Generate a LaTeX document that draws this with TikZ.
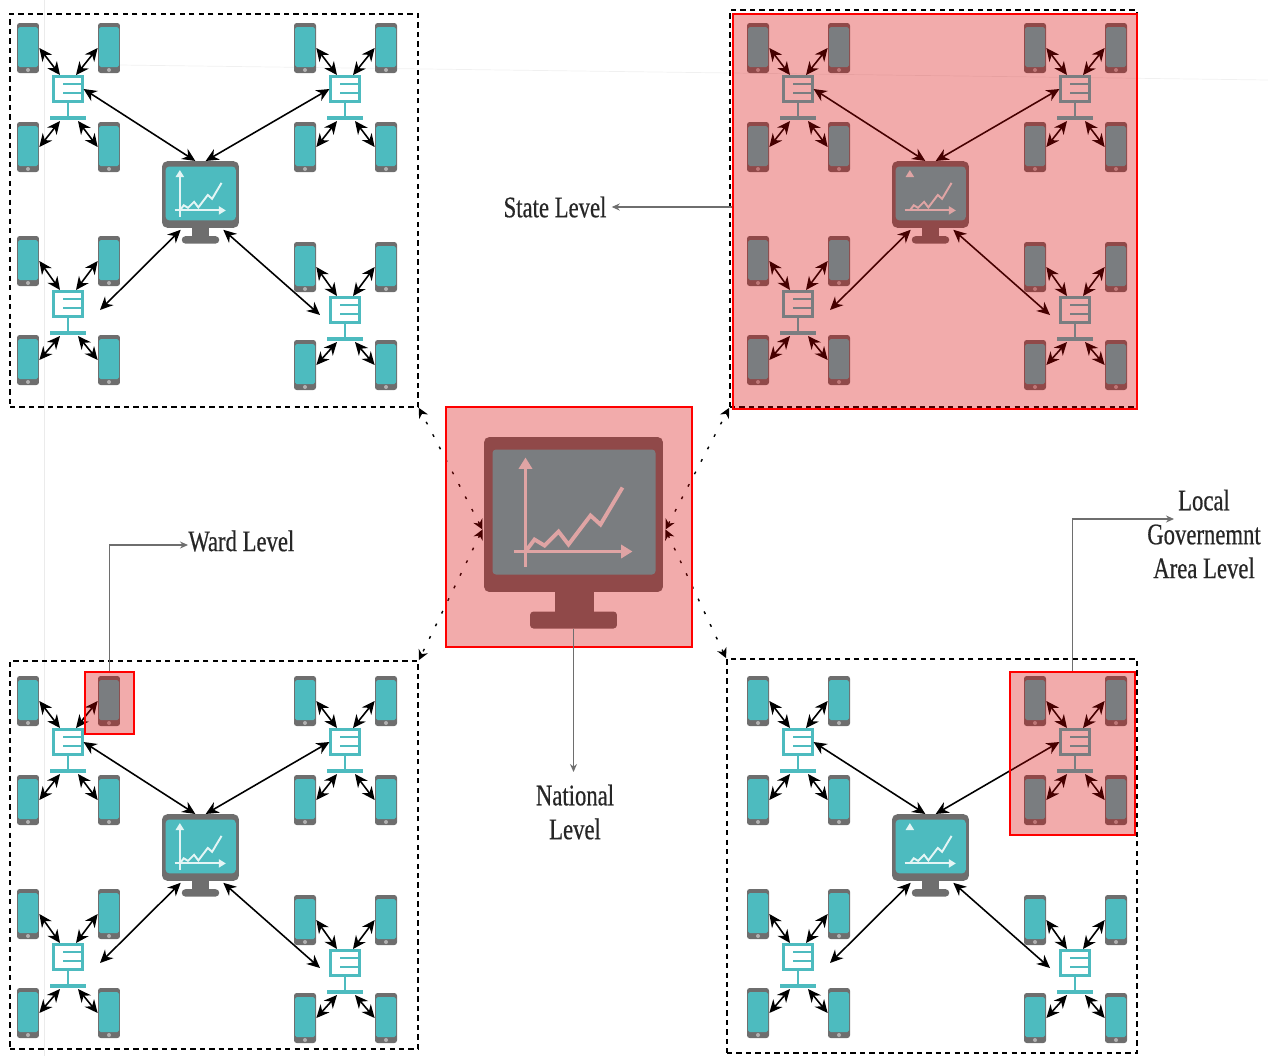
\documentclass[tikz,border=0pt]{standalone}
\usepackage{fontspec}
\setmainfont[FakeStretch=0.76,FakeBold=0.5]{Liberation Serif}
\usetikzlibrary{arrows.meta,fit}
\definecolor{screenteal}{HTML}{4DBBBF}
\definecolor{bodygray}{HTML}{6E6E6E}
\definecolor{markred}{HTML}{D70000}
\tikzset{
    phonebody/.style={rectangle, fill=bodygray, rounded corners=1.5pt, minimum width=.44cm, minimum height=1cm, inner sep=0pt},
    monitorbody/.style={rectangle, fill=bodygray, rounded corners=3pt, minimum width=3.58cm, minimum height=3.1cm, inner sep=0pt, transform shape},
    monitorbase/.style={rectangle, fill=bodygray, rounded corners=2pt, minimum width=1.74cm, minimum height=.34cm, inner sep=0pt, transform shape},
    hubbox/.style={rectangle, draw=screenteal, fill=white, line width=1.2pt, minimum width=.58cm, minimum height=.5cm, inner sep=0pt},
    hubbar/.style={rectangle, fill=screenteal, minimum width=.72cm, minimum height=.08cm, inner sep=0pt},
    biedge/.style={draw, line width=.9pt, {Stealth[length=2.6mm,width=2.4mm]}-{Stealth[length=2.6mm,width=2.4mm]}},
    dashedge/.style={draw, line width=.8pt, dash pattern=on 1.6pt off 6.4pt, {Stealth[length=2mm,width=2mm]}-{Stealth[length=2mm,width=2mm]}},
    leader/.style={draw, bodygray, line width=.9pt, -{Stealth[length=1.6mm,width=1.4mm]}},
    levelframe/.style={draw, line width=1pt, dash pattern=on 3pt off 2.4pt, inner sep=0pt},
    redbox/.style={draw=red, fill=markred, fill opacity=.33, line width=1pt, inner sep=0pt},
    levellabel/.style={text=black!85, align=center, inner sep=0pt, font=\fontsize{17}{19.3}\selectfont},
    chartline/.style={white!85!screenteal, line width=#1},
    pics/phone/.style={code={
        \node[phonebody] (-body) {};
        \fill[screenteal, rounded corners=1pt] (-10,-21) rectangle (10,19);
        \fill[black!30] (0,22) circle (2);
    }},
    pics/hub/.style={code={
        \node[hubbox] (-box) {};
        \node[hubbar] (-bar) at (0,29) {};
        \draw[screenteal, line width=1.4pt] (0,13) -- (-bar.north);
        \draw[screenteal, line width=1.4pt] (-5,-5) -- (15,-5) (-5,4) -- (15,4);
        \coordinate (-nw) at (-8,-14);
        \coordinate (-ne) at (8,-14);
        \coordinate (-sw) at (-8,32);
        \coordinate (-se) at (10,32);
        \coordinate (-gl) at (32,6);
        \coordinate (-gr) at (-25,5);
    }},
    pics/monitor/.style={code={
        \node[monitorbody] (-frame) {};
        \fill[bodygray] (-19,77) rectangle (20,98);
        \node[monitorbase] (-base) at (0,105.5) {};
        \fill[screenteal, rounded corners=2pt] (-81,-65) rectangle (82,60);
        \draw[chartline=#1, -{Triangle[scale=.7]}] (-48,\axisfoot) -- (-48,-57);
        \draw[chartline=#1, -{Triangle[scale=.7]}] (-60,37) -- (59,37);
        \draw[chartline=#1] (-48,37) -- (-39,25) -- (-29,31) -- (-15,17) -- (-5,30) -- (17,1) -- (27,10) -- (49,-27);
        \coordinate (-tl) at (-12,-78);
        \coordinate (-tr) at (12,-78);
        \coordinate (-bl) at (-46,82);
        \coordinate (-br) at (53,82);
        \coordinate (-left) at (-91,15);
        \coordinate (-right) at (92,15);
    }}
}
\newcommand{\axisfoot}{52}

% one hub with its four phones: name, hub x, hub y, upper phones y, lower phones y
\newcommand{\hubset}[5]{
    \pic (#1h) at (#2,#3) {hub};
    \pic (#1p) at (#2-40,#4) {phone};
    \pic (#1q) at (#2+41,#4) {phone};
    \pic (#1r) at (#2-40,#5) {phone};
    \pic (#1s) at (#2+41,#5) {phone};
    \draw[biedge] (#1p-body.east) -- (#1h-nw);
    \draw[biedge] (#1q-body.west) -- (#1h-ne);
    \draw[biedge] (#1r-body.east) -- (#1h-sw);
    \draw[biedge] (#1s-body.west) -- (#1h-se);
}
% one whole level: name, x offset, y offset, foot of the chart's upright axis
\newcommand{\levelset}[4]{
    \begin{scope}[shift={(#2,#3)}]
    \renewcommand{\axisfoot}{#4}
    \hubset{#1a}{68}{89}{48}{147}
    \hubset{#1b}{345}{89}{48}{147}
    \hubset{#1c}{68}{304}{261}{360}
    \hubset{#1d}{345}{310}{267}{365}
    \pic[scale=.43] (#1m) at (200.5,194.5) {monitor=1.1pt};
    \draw[biedge] (#1ah-box.east) -- (#1m-tl);
    \draw[biedge] (#1bh-box.west) -- (#1m-tr);
    \draw[biedge] (#1ch-gl) -- (#1m-bl);
    \draw[biedge] (#1dh-gr) -- (#1m-br);
    \end{scope}
}

\begin{document}
\begin{tikzpicture}[x=.02cm, y=-.02cm]
    \useasboundingbox (0,0) rectangle (1268,1056);
    \draw[black!8] (44,0) -- (44,1056);
    \draw[black!6] (120,65) -- (1268,80);

    % Levels
    \levelset{tl}{0}{0}{52}
    \levelset{tr}{730}{0}{-45}
    \levelset{bl}{0}{653}{52}
    \levelset{br}{730}{653}{-45}
    \node[levelframe, fit={(10,14) (418,407)}] (tlframe) {};
    \node[levelframe, fit={(730,10) (1137,407)}] (trframe) {};
    \node[levelframe, fit={(10,661) (418,1049)}] (blframe) {};
    \node[levelframe, fit={(727,659) (1137,1053)}] (brframe) {};

    % National monitor
    \pic (natm) at (573.5,514.5) {monitor=2.2pt};

    % edges
    \draw[dashedge] (natm-left) -- (tlframe.south east);
    \draw[dashedge] (natm-left) -- (blframe.north east);
    \draw[dashedge] (natm-right) -- (trframe.south west);
    \draw[dashedge] (natm-right) -- (brframe.north west);

    % Highlights
    \node[redbox, fit={(446,407) (692,647)}] (natbox) {};
    \node[redbox, fit={(733,14) (1137,409)}] (statebox) {};
    \node[redbox, fit={(85,672) (134,734)}] (wardbox) {};
    \node[redbox, fit={(1010,672) (1135,835)}] (lgabox) {};

    % Labels
    \node[levellabel] (statelabel) at (555,207) {State Level};
    \node[levellabel, anchor=west] (wardlabel) at (188,541) {Ward Level};
    \node[levellabel] (natlabel) at (575,812) {National\\Level};
    \node[levellabel] (lgalabel) at (1204,534) {Local\\Governemnt\\Area Level};
    \coordinate (wardend) at (188,545);
    \coordinate (lgaend) at (1174,519);
    \coordinate (natend) at (573.5,772);

    \draw[leader, shorten >=.1cm] (statebox.west |- statelabel.east) -- (statelabel.east);
    \draw[leader] (wardbox.north) |- (wardend);
    \draw[leader] (natm-base.south) -- (natend);
    \draw[leader] (lgabox.north) |- (lgaend);
\end{tikzpicture}
\end{document}
